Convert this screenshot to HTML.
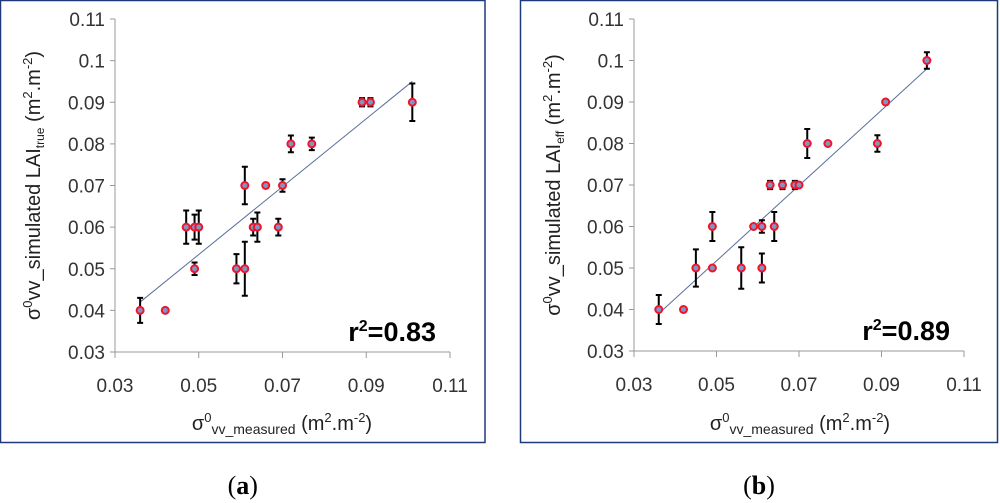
<!DOCTYPE html>
<html><head><meta charset="utf-8"><style>
body{margin:0;background:#fff;width:1000px;height:503px;overflow:hidden;font-family:"Liberation Sans",sans-serif}
svg{position:absolute;left:0;top:0}
</style></head><body>
<svg id="chart" width="1000" height="503" font-family="Liberation Sans, sans-serif"></svg>
<script>
// Panel (a) data
const aX=[0.036,0.042,0.047,0.049,0.050,0.049,0.059,0.061,0.061,0.063,0.064,0.066,0.069,0.070,0.072,0.077,0.089,0.091,0.101];
const aY=[0.04,0.04,0.06,0.06,0.06,0.05,0.05,0.05,0.07,0.06,0.06,0.07,0.06,0.07,0.08,0.08,0.09,0.09,0.09];
const aErr=[0.003,0,0.004,0.003,0.004,0.0015,0.0035,0.0065,0.0045,0.002,0.0035,0.0005,0.002,0.0015,0.002,0.0015,0.001,0.001,0.0045];
const aTrend=[[0.036,0.042],[0.101,0.095]];
// Panel (b) data
const bX=[0.036,0.042,0.045,0.049,0.049,0.056,0.059,0.061,0.061,0.063,0.064,0.066,0.069,0.070,0.072,0.077,0.089,0.091,0.101];
const bY=[0.04,0.04,0.05,0.06,0.05,0.05,0.06,0.06,0.05,0.07,0.06,0.07,0.07,0.07,0.08,0.08,0.08,0.09,0.10];
const bErr=[0.0035,0,0.0045,0.0035,0,0.005,0,0.0015,0.0035,0.001,0.0035,0.001,0.001,0,0.0035,0,0.002,0,0.002];
const bTrend=[[0.036,0.039],[0.101,0.098]];
const ticks=[0.03,0.05,0.07,0.09,0.11];
const yTicks=[0.03,0.04,0.05,0.06,0.07,0.08,0.09,0.1,0.11];
const tickLabelsY=['0.03','0.04','0.05','0.06','0.07','0.08','0.09','0.1','0.11'];
const tickLabelsX=['0.03','0.05','0.07','0.09','0.11'];

const svg=document.getElementById('chart');
const NS='http://www.w3.org/2000/svg';
function mk(tag,attrs,parent){const e=document.createElementNS(NS,tag);for(const k in attrs)e.setAttribute(k,attrs[k]);(parent||svg).appendChild(e);return e;}

function panel(id,box,x0,x1,yTop,yBot,xs,ys,errs,trend,r2,sub,titleX,xTitleX,label){
  const g=mk('g',{});
  
  
  const fx=v=>x0+(v-0.03)/0.08*(x1-x0);
  const fy=v=>yBot-(v-0.03)/0.08*(yBot-yTop);
  const fr=mk('rect',{x:box[0],y:box[1],width:box[2],height:box[3],fill:'none',stroke:'#1f3a7a','stroke-width':1.5},g);
  
  const ax=mk('path',{d:`M${x0},${yTop} V${yBot} H${x1}`,stroke:'#999',fill:'none','stroke-width':1},g);
  
  yTicks.forEach((t,i)=>{
    mk('line',{x1:x0-5,x2:x0,y1:fy(t),y2:fy(t),stroke:'#999'},g);
    const tl=mk('text',{x:x0-10,y:fy(t)+7,'text-anchor':'end','font-size':19,fill:'#333'},g);
    tl.textContent=tickLabelsY[i];
    
  });
  ticks.forEach((t,i)=>{
    mk('line',{x1:fx(t),x2:fx(t),y1:yBot,y2:yBot+6,stroke:'#999'},g);
    const tl=mk('text',{x:fx(t),y:yBot+40,'text-anchor':'middle','font-size':19,fill:'#333'},g);
    tl.textContent=tickLabelsX[i];
    
  });
  const tr=mk('line',{x1:fx(trend[0][0]),y1:fy(trend[0][1]),x2:fx(trend[1][0]),y2:fy(trend[1][1]),stroke:'#5a6f9a','stroke-width':1},g);
  
  xs.forEach((v,i)=>{
    const cx=fx(v),cy=fy(ys[i]);
    if(errs[i]>0){
      const eb=mk('path',{d:`M${cx},${fy(ys[i]+errs[i])}V${fy(ys[i]-errs[i])}M${cx-3},${fy(ys[i]+errs[i])}h6M${cx-3},${fy(ys[i]-errs[i])}h6`,stroke:'#000','stroke-width':2,fill:'none'},g);
      
    }
    const c=mk('circle',{cx,cy,r:3.5,fill:'#7f95c8',stroke:'#f0142a','stroke-width':2},g);
    
  });
  const r=mk('text',{x:x1-14,y:yBot-11,'text-anchor':'end','font-size':27,'font-weight':'bold',fill:'#000'},g);
  r.innerHTML='r<tspan dy="-10" font-size="16">2</tspan><tspan dy="10">='+r2+'</tspan>';
  
  const yt=mk('text',{transform:`translate(${titleX},${(yTop+yBot)/2}) rotate(-90)`,'text-anchor':'middle','font-size':20,fill:'#222'},g);
  yt.innerHTML=`σ<tspan dy="-8" font-size="13">0</tspan><tspan dy="8">vv_simulated LAI</tspan><tspan dy="4" font-size="12">${sub}</tspan><tspan dy="-4">  (m</tspan><tspan dy="-8" font-size="13">2</tspan><tspan dy="8">.m</tspan><tspan dy="-8" font-size="13">-2</tspan><tspan dy="8">)</tspan>`;
  
  const xt=mk('text',{x:xTitleX,y:430,'text-anchor':'middle','font-size':20,fill:'#222'},g);
  xt.innerHTML='σ<tspan dy="-8" font-size="13">0</tspan><tspan dy="12" font-size="14">vv_measured</tspan><tspan dy="-4"> (m</tspan><tspan dy="-8" font-size="13">2</tspan><tspan dy="8">.m</tspan><tspan dy="-8" font-size="13">-2</tspan><tspan dy="8">)</tspan>';
  
  const pl=mk('text',{x:(box[0]+box[0]+box[2])/2,y:494,'text-anchor':'middle','font-size':26,'font-family':'Liberation Serif, serif',fill:'#000'},g);
  pl.innerHTML=`(<tspan font-weight="bold">${label}</tspan>)`;
  
}
panel('panel-a',[0.5,0.5,484.5,442],115,450,19,352,aX,aY,aErr,aTrend,'0.83','true',40,282,'a');
panel('panel-b',[520.5,0.5,477,442],634,964,19,351,bX,bY,bErr,bTrend,'0.89','eff',560,800,'b');
</script>
</body></html>
